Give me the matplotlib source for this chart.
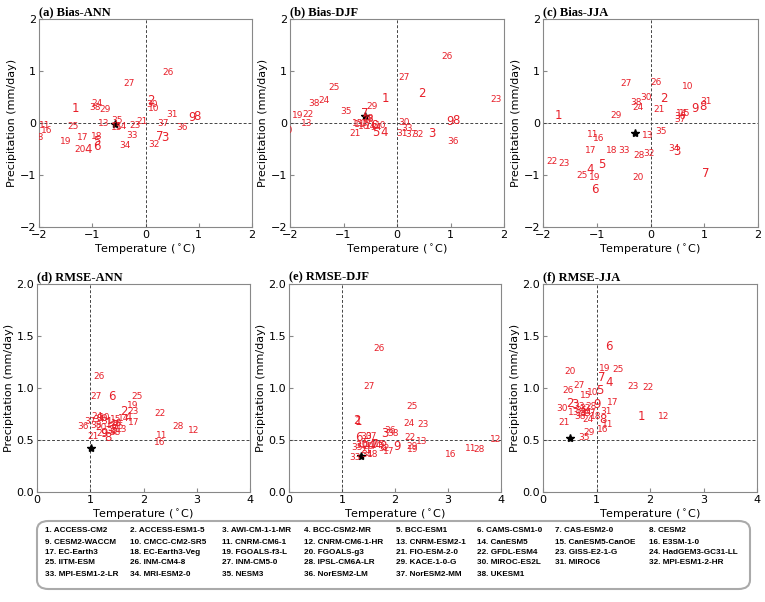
import matplotlib
matplotlib.use("Agg")
import matplotlib.pyplot as plt
from matplotlib.patches import FancyBboxPatch

W, H = 765, 602

models = ["ACCESS-CM2", "ACCESS-ESM1-5", "AWI-CM-1-1-MR", "BCC-CSM2-MR", "BCC-ESM1",
          "CAMS-CSM1-0", "CAS-ESM2-0", "CESM2", "CESM2-WACCM", "CMCC-CM2-SR5",
          "CNRM-CM6-1", "CNRM-CM6-1-HR", "CNRM-ESM2-1", "CanESM5", "CanESM5-CanOE",
          "E3SM-1-0", "EC-Earth3", "EC-Earth3-Veg", "FGOALS-f3-L", "FGOALS-g3",
          "FIO-ESM-2-0", "GFDL-ESM4", "GISS-E2-1-G", "HadGEM3-GC31-LL", "IITM-ESM",
          "INM-CM4-8", "INM-CM5-0", "IPSL-CM6A-LR", "KACE-1-0-G", "MIROC-ES2L",
          "MIROC6", "MPI-ESM1-2-HR", "MPI-ESM1-2-LR", "MRI-ESM2-0", "NESM3",
          "NorESM2-LM", "NorESM2-MM", "UKESM1"]

# (temperature, precipitation) per model, models 1..38
bias_ann = [(-1.31, 0.28), (0.10, 0.43), (0.37, -0.27), (-1.08, -0.51), (-0.92, -0.36),
            (-0.91, -0.46), (0.27, -0.25), (0.96, 0.13), (0.87, 0.11), (0.15, 0.27),
            (-1.89, -0.04), (-2.10, -0.02), (-0.79, 0.00), (-0.44, -0.07), (-0.54, -0.09),
            (-1.86, -0.14), (-1.17, -0.28), (-0.92, -0.26), (-1.50, -0.36), (-1.22, -0.51),
            (-0.07, 0.02), (-2.10, -0.12), (-0.20, -0.05), (-0.92, 0.37), (-1.37, -0.07),
            (0.43, 0.97), (-0.30, 0.75), (-2.02, -0.28), (-0.76, 0.25), (0.12, 0.36),
            (0.49, 0.17), (0.16, -0.41), (-0.26, -0.25), (-0.39, -0.44), (-0.53, 0.05),
            (0.68, -0.09), (0.32, -0.01), (-0.95, 0.30)]
bias_djf = [(-0.22, 0.47), (0.46, 0.57), (0.65, -0.21), (-0.24, -0.18), (-0.39, -0.18),
            (-0.44, -0.04), (-0.61, 0.19), (1.10, 0.04), (0.99, 0.02), (-0.30, -0.05),
            (-0.70, -0.02), (-2.25, 0.05), (-1.68, 0.00), (-0.50, -0.06), (-0.74, -0.01),
            (-0.62, -0.06), (-0.56, 0.00), (-0.52, 0.06), (-1.86, 0.14), (-2.05, -0.15),
            (-0.78, -0.21), (-1.66, 0.16), (1.85, 0.45), (-1.36, 0.43), (-1.18, 0.68),
            (0.93, 1.28), (0.13, 0.88), (-0.54, 0.09), (-0.47, 0.32), (0.13, 0.01),
            (0.09, -0.20), (0.40, -0.23), (0.18, -0.10), (-0.40, -0.08), (-0.96, 0.23),
            (1.05, -0.36), (0.27, -0.23), (-1.55, 0.38)]
bias_jja = [(-1.71, 0.14), (0.24, 0.48), (0.49, -0.54), (-1.12, -0.89), (-0.91, -0.80),
            (-1.04, -1.28), (1.02, -0.97), (0.97, 0.32), (0.83, 0.27), (0.69, 0.70),
            (-1.07, -0.22), (-2.30, 0.00), (-0.06, -0.24), (0.58, 0.19), (0.64, 0.19),
            (-0.96, -0.29), (-1.11, -0.52), (-0.72, -0.52), (-1.04, -1.05), (-0.24, -1.05),
            (0.15, 0.26), (-1.84, -0.75), (-1.60, -0.77), (-0.24, 0.29), (-1.28, -1.00),
            (0.10, 0.78), (-0.46, 0.75), (-0.21, -0.63), (-0.64, 0.14), (-0.09, 0.49),
            (1.03, 0.42), (-0.03, -0.58), (-0.49, -0.52), (0.44, -0.49), (0.20, -0.17),
            (0.55, 0.12), (0.55, 0.06), (-0.26, 0.40)]
rmse_ann = [(1.35, 0.66), (1.63, 0.77), (1.38, 0.62), (1.71, 0.72), (1.45, 0.60),
            (1.41, 0.92), (1.48, 0.64), (1.34, 0.52), (1.25, 0.56), (1.28, 0.72),
            (2.34, 0.54), (2.95, 0.59), (1.59, 0.60), (1.62, 0.71), (1.47, 0.70),
            (2.31, 0.48), (1.81, 0.67), (1.50, 0.66), (1.79, 0.83), (1.20, 0.62),
            (1.05, 0.53), (2.31, 0.75), (1.81, 0.77), (1.12, 0.73), (1.88, 0.92),
            (1.17, 1.11), (1.10, 0.92), (2.64, 0.63), (1.22, 0.56), (1.22, 0.71),
            (1.32, 0.68), (1.40, 0.58), (1.47, 0.57), (1.17, 0.70), (1.52, 0.63),
            (0.87, 0.63), (1.00, 0.68), (1.10, 0.64)]
rmse_djf = [(1.31, 0.68), (1.28, 0.69), (1.81, 0.56), (1.55, 0.45), (1.45, 0.47),
            (1.31, 0.52), (1.62, 0.46), (1.78, 0.44), (2.03, 0.44), (1.40, 0.46),
            (3.42, 0.42), (3.89, 0.50), (2.51, 0.49), (1.65, 0.45), (1.72, 0.46),
            (3.06, 0.36), (1.88, 0.39), (1.58, 0.36), (2.34, 0.41), (1.50, 0.44),
            (1.45, 0.40), (2.29, 0.52), (2.53, 0.65), (2.27, 0.66), (2.32, 0.82),
            (1.69, 1.38), (1.51, 1.01), (3.58, 0.41), (2.33, 0.44), (1.46, 0.53),
            (1.35, 0.45), (1.80, 0.42), (1.25, 0.33), (1.47, 0.36), (1.28, 0.43),
            (1.91, 0.59), (1.55, 0.53), (1.97, 0.56)]
rmse_jja = [(1.84, 0.73), (0.50, 0.85), (0.60, 0.84), (1.23, 1.05), (1.07, 0.98),
            (1.23, 1.40), (1.10, 1.10), (1.12, 0.70), (1.00, 0.84), (0.93, 0.96),
            (1.21, 0.65), (2.26, 0.73), (0.57, 0.76), (0.72, 0.75), (0.79, 0.93),
            (1.12, 0.60), (1.31, 0.86), (0.98, 0.73), (1.15, 1.19), (0.50, 1.16),
            (0.40, 0.67), (1.96, 1.00), (1.68, 1.01), (0.84, 0.70), (1.40, 1.18),
            (0.47, 0.98), (0.67, 1.02), (0.90, 0.82), (0.87, 0.57), (0.36, 0.80),
            (1.17, 0.77), (0.78, 0.80), (0.68, 0.82), (0.80, 0.76), (0.76, 0.52),
            (0.72, 0.78), (0.88, 0.75), (0.70, 0.73)]

# multi-model mean (star)
stars = [(-0.57, -0.01), (-0.60, 0.13), (-0.29, -0.19), (1.02, 0.42), (1.36, 0.35), (0.50, 0.52)]

titles = ["(a) Bias-ANN", "(b) Bias-DJF", "(c) Bias-JJA",
          "(d) RMSE-ANN", "(e) RMSE-DJF", "(f) RMSE-JJA"]
panels = [bias_ann, bias_djf, bias_jja, rmse_ann, rmse_djf, rmse_jja]

# axes boxes in pixels: left, right, top, bottom
boxes = [(39, 252, 19, 227), (290, 504, 19, 227), (543, 758, 19, 227),
         (37, 250, 284, 492), (289, 501, 284, 492), (543, 757, 284, 492)]

fig = plt.figure(figsize=(W / 100, H / 100), dpi=100)

for i, (data, title, box, star) in enumerate(zip(panels, titles, boxes, stars)):
    l, r, t, b = box
    ax = fig.add_axes([l / W, 1 - b / H, (r - l) / W, (b - t) / H])
    for sp in ax.spines.values():
        sp.set_color("#888888")
    if i < 3:
        ax.set_xlim(-2, 2)
        ax.set_ylim(-2, 2)
        ax.set_xticks([-2, -1, 0, 1, 2])
        ax.set_yticks([-2, -1, 0, 1, 2])
        ax.axvline(0, color="#444444", ls="--", lw=0.7, dashes=(3, 2))
        ax.axhline(0, color="#444444", ls="--", lw=0.7, dashes=(3, 2))
    else:
        ax.set_xlim(0, 4)
        ax.set_ylim(0, 2)
        ax.set_xticks([0, 1, 2, 3, 4])
        ax.set_yticks([0.0, 0.5, 1.0, 1.5, 2.0])
        ax.yaxis.set_major_formatter(matplotlib.ticker.FormatStrFormatter("%.1f"))
        ax.axvline(1, color="#444444", ls="--", lw=0.7, dashes=(3, 2))
        ax.axhline(0.5, color="#444444", ls="--", lw=0.7, dashes=(3, 2))
    ax.tick_params(direction="in", length=3, labelsize=8, color="#888888", pad=2)
    ax.set_xlabel("Temperature ($^\\circ$C)", fontsize=8, labelpad=2)
    ax.set_ylabel("Precipitation (mm/day)", fontsize=8, labelpad=2)
    ax.set_title(title, loc="left", fontsize=9, fontweight="bold",
                 family="Liberation Serif", pad=3)

    for k, (x, y) in enumerate(data):
        lab = str(k + 1)
        fs = 8.5 if len(lab) == 1 else 6.5
        ax.text(x, y, lab, color="#e8202a", fontsize=fs, ha="center", va="center",
                clip_on=True)
    ax.plot(star[0], star[1], marker="*", color="black", ms=6, ls="none")

# model legend box
lx0, lx1, ly0, ly1 = 37, 750, 521, 589
fig.patches.append(FancyBboxPatch((lx0 / W, 1 - ly1 / H), (lx1 - lx0) / W, (ly1 - ly0) / H,
                                  boxstyle="round,pad=0,rounding_size=0.015",
                                  transform=fig.transFigure, facecolor="white",
                                  edgecolor="#aaaaaa", lw=1.5))
col_x = [45, 130, 222, 304, 396, 477, 555, 649]
row_y = [531, 542, 552, 563, 574]
for k, name in enumerate(models):
    row, col = divmod(k, 8)
    fig.text(col_x[col] / W, 1 - row_y[row] / H, f"{k + 1}. {name}", fontsize=5.9,
             fontweight="bold", family="Liberation Sans", va="center", ha="left")

fig.savefig("out.png", dpi=100)
